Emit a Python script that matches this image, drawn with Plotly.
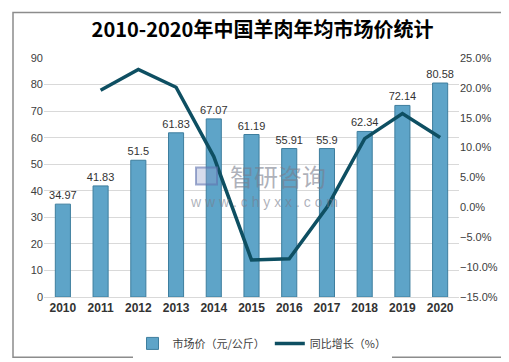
import plotly.graph_objects as go

years = ["2010", "2011", "2012", "2013", "2014", "2015", "2016", "2017", "2018", "2019", "2020"]
price = [34.97, 41.83, 51.5, 61.83, 67.07, 61.19, 55.91, 55.9, 62.34, 72.14, 80.58]
growth = [None, 19.6, 23.1, 20.1, 8.5, -8.8, -8.6, 0.0, 11.5, 15.7, 11.7]

W, H = 509, 362
L, R, T, B = 36, 58, 50, 70
pw, ph = W - L - R, H - T - B

def px(x):
    return (x - L) / pw

def py(y):
    return (H - B - y) / ph

fig = go.Figure()
fig.add_trace(go.Bar(
    x=years, y=price, name="市场价（元/公斤）",
    marker=dict(color="#5EA4C8", line=dict(color="#3E7E9E", width=1)),
    text=[str(v) for v in price], textposition="outside", constraintext="none",
    textfont=dict(size=11, color="#333333", family="Liberation Sans, Arial"),
    cliponaxis=False,
))
fig.add_trace(go.Scatter(
    x=years, y=growth, name="同比增长（%）", yaxis="y2", mode="lines",
    line=dict(color="#0E4F62", width=3.5), connectgaps=False,
))

fig.update_layout(
    width=W, height=H, margin=dict(l=L, r=R, t=T, b=B),
    paper_bgcolor="white", plot_bgcolor="white",
    bargap=0.6,
    title=dict(text="<b>2010-2020年中国羊肉年均市场价统计</b>", x=0.5, xanchor="center",
               y=1 - 22 / H, yanchor="middle",
               font=dict(size=20, color="#000000", family="Noto Sans CJK SC")),
    font=dict(family="Liberation Sans, Arial, Noto Sans CJK SC", size=11, color="#404040"),
    xaxis=dict(showgrid=False, showline=True, linecolor="#d9d9d9", ticks="",
               tickfont=dict(size=12, color="#333333", family="Liberation Sans, Arial"),
               tickprefix="<b>", ticksuffix="</b>"),
    yaxis=dict(range=[0, 90], dtick=10, showgrid=True, gridcolor="#d9d9d9",
               zeroline=False, ticks="", tickfont=dict(size=11, color="#404040")),
    yaxis2=dict(range=[-15, 25], dtick=5, overlaying="y", side="right", showgrid=False,
                zeroline=False, ticksuffix="%", tickformat=".1f",
                tickfont=dict(size=11, color="#404040")),
    legend=dict(orientation="h", x=px(254), xanchor="center", y=py(339), yanchor="middle",
                font=dict(size=11, color="#404040", family="Noto Sans CJK SC"),
                itemwidth=30),
    showlegend=True,
)

fig.add_shape(type="rect", xref="paper", yref="paper",
              x0=px(5), x1=px(499), y0=py(353), y1=py(4),
              line=dict(color="#8c8c8c", width=1.5), fillcolor="rgba(0,0,0,0)", layer="below")

# watermark logo
fig.add_shape(type="rect", xref="paper", yref="paper",
              x0=px(188), x1=px(209), y0=py(178), y1=py(161),
              line=dict(color="rgba(95,115,175,0.6)", width=2),
              fillcolor="rgba(140,155,200,0.35)")

fig.add_annotation(xref="paper", yref="paper", x=px(270), y=py(169),
                   text="智研咨询", showarrow=False,
                   font=dict(size=24, color="rgba(120,125,140,0.6)",
                             family="Noto Sans CJK SC"))
fig.add_annotation(xref="paper", yref="paper", x=px(256), y=py(196),
                   text="w w w . c h y x x . c o m", showarrow=False,
                   font=dict(size=14, color="rgba(120,125,140,0.6)",
                             family="Liberation Sans, Arial"))

fig.write_html("out.html")
